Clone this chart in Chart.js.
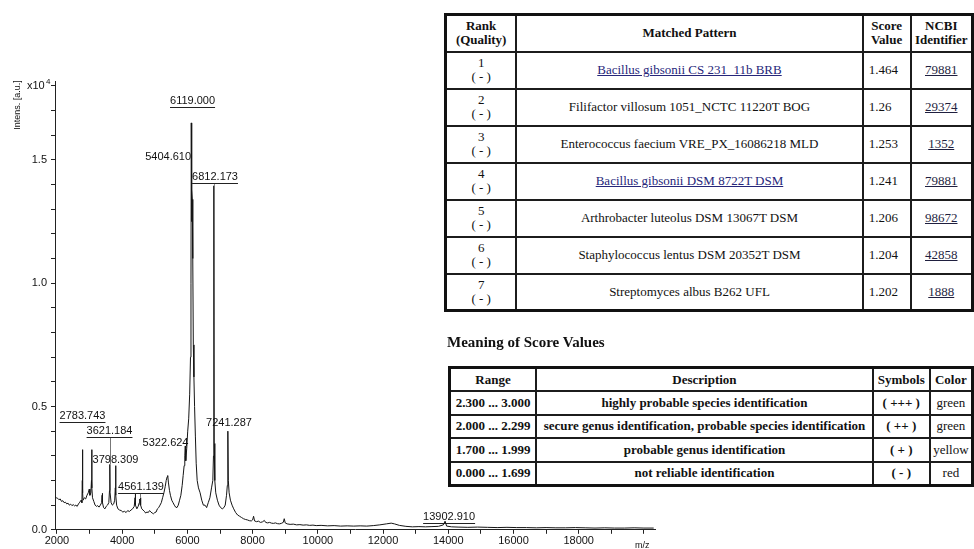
<!DOCTYPE html>
<html>
<head>
<meta charset="utf-8">
<script src="https://cdn.jsdelivr.net/npm/chart.js@4.4.0/dist/chart.umd.min.js"></script>
<style>
body { margin:0; width:974px; height:549px; overflow:hidden; position:relative; background:#fff; }
#spec { position:absolute; left:0; top:0; }
table { position:absolute; border-collapse:collapse; table-layout:fixed; font-family:'Liberation Serif','Times New Roman',serif; font-size:13px; color:#111; background:#fff; border:3px solid #111; }
td, th { border:2px solid #1c1c1c; text-align:center; padding:0; overflow:hidden; white-space:nowrap; line-height:14px; }
#t1 { left:444px; top:13px; }
#t1 tr { height:37px; }
#t1 td.score { text-align:left; padding-left:5px; }
#t1 a { color:#26267a; text-decoration:underline; }
#t1 span.id { color:#1f1f3f; text-decoration:underline; }
#cap { position:absolute; left:447px; top:334px; font-family:'Liberation Serif','Times New Roman',serif; font-weight:bold; font-size:15px; color:#111; }
#t2 { left:448px; top:366px; font-weight:bold; }
#t2 tr { height:23.5px; }
#t2 td { line-height:18px; }
#t2 td.col { font-weight:normal; }
</style>
</head>
<body>
<canvas id="spec" width="974" height="549"></canvas>
<table id="t1"></table>
<div id="cap">Meaning of Score Values</div>
<table id="t2"></table>
<script>
// spectrum, intensity in 10^4 a.u.
let mz = [1940, 1980, 2020, 2060, 2100, 2140, 2180, 2220, 2260, 2300, 2340, 2380, 2420, 2460, 2500, 2540, 2580, 2620, 2660, 2700, 2740, 2765, 2778, 2784, 2790, 2800, 2840, 2880, 2920, 2960, 2990, 3010, 3040, 3058, 3066, 3074, 3090, 3130, 3170, 3210, 3250, 3290, 3330, 3370, 3385, 3391, 3400, 3430, 3470, 3510, 3550, 3590, 3612, 3621, 3630, 3660, 3700, 3740, 3770, 3790, 3798, 3808, 3830, 3870, 3920, 3970, 4020, 4070, 4120, 4170, 4220, 4270, 4320, 4370, 4395, 4403, 4412, 4450, 4490, 4525, 4540, 4552, 4561, 4572, 4600, 4640, 4680, 4720, 4760, 4800, 4840, 4880, 4920, 4960, 5000, 5040, 5080, 5120, 5160, 5200, 5240, 5280, 5320, 5350, 5380, 5397, 5420, 5450, 5480, 5520, 5560, 5600, 5640, 5680, 5720, 5760, 5800, 5840, 5870, 5900, 5920, 5935, 5950, 5980, 6010, 6040, 6070, 6095, 6110, 6119, 6126, 6138, 6150, 6165, 6182, 6200, 6220, 6245, 6270, 6300, 6340, 6390, 6440, 6490, 6540, 6590, 6640, 6690, 6740, 6780, 6800, 6812, 6822, 6840, 6870, 6920, 6970, 7020, 7070, 7120, 7160, 7200, 7225, 7241, 7255, 7280, 7320, 7370, 7420, 7480, 7540, 7600, 7660, 7720, 7780, 7840, 7900, 7960, 8000, 8030, 8060, 8120, 8180, 8240, 8300, 8360, 8400, 8460, 8520, 8580, 8640, 8700, 8760, 8820, 8880, 8940, 8970, 9000, 9060, 9150, 9250, 9350, 9450, 9550, 9650, 9750, 9850, 9950, 10100, 10300, 10500, 10700, 10900, 11100, 11300, 11500, 11700, 11900, 12100, 12250, 12350, 12500, 12700, 12900, 13100, 13300, 13500, 13700, 13850, 13902, 13950, 14100, 14300, 14600, 14900, 15200, 15500, 15800, 16100, 16400, 16700, 17000, 17300, 17600, 17900, 18200, 18500, 18800, 19100, 19400, 19700, 20000, 20300];
let intensity = [0.135, 0.13, 0.128, 0.122, 0.125, 0.115, 0.118, 0.11, 0.112, 0.105, 0.108, 0.1, 0.104, 0.098, 0.102, 0.097, 0.1, 0.095, 0.105, 0.112, 0.12, 0.11, 0.2, 0.325, 0.15, 0.12, 0.13, 0.125, 0.14, 0.15, 0.165, 0.14, 0.15, 0.2, 0.325, 0.17, 0.13, 0.115, 0.1, 0.095, 0.098, 0.092, 0.1, 0.11, 0.14, 0.148, 0.11, 0.09, 0.085, 0.095, 0.1, 0.11, 0.16, 0.265, 0.15, 0.11, 0.1, 0.105, 0.12, 0.17, 0.26, 0.14, 0.1, 0.085, 0.08, 0.078, 0.072, 0.075, 0.07, 0.078, 0.074, 0.08, 0.085, 0.095, 0.13, 0.145, 0.1, 0.085, 0.095, 0.11, 0.125, 0.1, 0.13, 0.1, 0.085, 0.08, 0.075, 0.068, 0.072, 0.07, 0.078, 0.072, 0.068, 0.065, 0.07, 0.072, 0.085, 0.09, 0.1, 0.11, 0.13, 0.15, 0.175, 0.2, 0.215, 0.22, 0.19, 0.16, 0.14, 0.12, 0.11, 0.1, 0.092, 0.09, 0.1, 0.12, 0.14, 0.18, 0.22, 0.26, 0.3, 0.34, 0.28, 0.33, 0.4, 0.45, 0.55, 0.7, 1.0, 1.65, 1.25, 1.38, 1.34, 1.1, 0.75, 0.62, 0.5, 0.38, 0.27, 0.2, 0.17, 0.15, 0.12, 0.1, 0.1, 0.09, 0.11, 0.13, 0.17, 0.2, 0.3, 1.395, 0.35, 0.2, 0.15, 0.12, 0.1, 0.09, 0.085, 0.09, 0.1, 0.14, 0.18, 0.4, 0.2, 0.15, 0.12, 0.1, 0.085, 0.07, 0.06, 0.055, 0.05, 0.045, 0.042, 0.04, 0.037, 0.036, 0.04, 0.055, 0.036, 0.033, 0.035, 0.03, 0.032, 0.038, 0.03, 0.028, 0.03, 0.027, 0.026, 0.028, 0.025, 0.024, 0.026, 0.03, 0.045, 0.028, 0.024, 0.022, 0.023, 0.02, 0.021, 0.019, 0.02, 0.018, 0.019, 0.017, 0.018, 0.016, 0.017, 0.015, 0.016, 0.015, 0.016, 0.015, 0.017, 0.02, 0.024, 0.027, 0.024, 0.018, 0.014, 0.012, 0.013, 0.012, 0.013, 0.014, 0.02, 0.035, 0.015, 0.012, 0.011, 0.01, 0.011, 0.01, 0.009, 0.01, 0.009, 0.009, 0.008, 0.009, 0.008, 0.008, 0.009, 0.008, 0.007, 0.008, 0.007, 0.007, 0.008, 0.007, 0.007];

// x ticks: marks every 1000, labels on the even ones
let xTickValues = [2000, 3000, 4000, 5000, 6000, 7000, 8000, 9000, 10000, 11000, 12000, 13000, 14000, 15000, 16000, 17000, 18000, 19000, 20000];
let xTickLabels = ['2000', '', '4000', '', '6000', '', '8000', '', '10000', '', '12000', '', '14000', '', '16000', '', '18000', '', ''];

let peakMz = [6119.000, 5404.610, 6812.173, 2783.743, 3621.184, 5322.624, 7241.287, 3798.309, 4561.139, 13902.910];

let rankNum = [1, 2, 3, 4, 5, 6, 7];
let matchedPattern = ['Bacillus gibsonii CS 231_11b BRB', 'Filifactor villosum 1051_NCTC 11220T BOG', 'Enterococcus faecium VRE_PX_16086218 MLD', 'Bacillus gibsonii DSM 8722T DSM', 'Arthrobacter luteolus DSM 13067T DSM', 'Staphylococcus lentus DSM 20352T DSM', 'Streptomyces albus B262 UFL'];
let scoreValue = [1.464, 1.26, 1.253, 1.241, 1.206, 1.204, 1.202];
let ncbiId = ['79881', '29374', '1352', '79881', '98672', '42858', '1888'];
let isLinked = [true, false, false, true, false, false, false];

let scoreRange = ['2.300 ... 3.000', '2.000 ... 2.299', '1.700 ... 1.999', '0.000 ... 1.699'];
let rangeDesc = ['highly probable species identification', 'secure genus identification, probable species identification', 'probable genus identification', 'not reliable identification'];
let rangeSymbol = ['( +++ )', '( ++ )', '( + )', '( - )'];
let rangeColor = ['green', 'green', 'yellow', 'red'];

// where each peak label sits (m/z of text anchor, height in 10^4)
let labelLayout = [
  {x: 6158, y: 1.74, align: 'center', under: true},
  {x: 6112, y: 1.51, align: 'right', under: false},
  {x: 6848, y: 1.43, align: 'center', under: true, leader: true},
  {x: 2784, y: 0.462, align: 'center', under: true},
  {x: 3612, y: 0.401, align: 'center', under: true, leader: true},
  {x: 5330, y: 0.353, align: 'center', under: false},
  {x: 7277, y: 0.434, align: 'center', under: false},
  {x: 3796, y: 0.284, align: 'center', under: false},
  {x: 4578, y: 0.174, align: 'center', under: true, leader: true},
  {x: 14026, y: 0.053, align: 'center', under: true}
];

function buildTables() {
  let t1 = document.getElementById('t1');
  let html = '<colgroup><col style="width:71px"><col style="width:347px"><col style="width:48px"><col style="width:62px"></colgroup>';
  html += '<tr><th>Rank<br>(Quality)</th><th>Matched Pattern</th><th>Score<br>Value</th><th>NCBI<br>Identifier</th></tr>';
  rankNum.forEach((r, i) => {
    let name = isLinked[i] ? `<a>${matchedPattern[i]}</a>` : matchedPattern[i];
    html += `<tr><td>${r}<br>( - )</td><td>${name}</td><td class="score">${scoreValue[i]}</td><td><span class="id">${ncbiId[i]}</span></td></tr>`;
  });
  t1.innerHTML = html;

  let t2 = document.getElementById('t2');
  let html2 = '<colgroup><col style="width:89px"><col style="width:340px"><col style="width:59px"><col style="width:44px"></colgroup>';
  html2 += '<tr><th>Range</th><th>Description</th><th>Symbols</th><th>Color</th></tr>';
  scoreRange.forEach((r, i) => {
    html2 += `<tr><td>${r}</td><td>${rangeDesc[i]}</td><td>${rangeSymbol[i]}</td><td class="col">${rangeColor[i]}</td></tr>`;
  });
  t2.innerHTML = html2;
}
buildTables();

let font = "'Liberation Sans', Arial, sans-serif";

let annotate = {
  id: 'annotate',
  afterDraw(chart) {
    let ctx = chart.ctx;
    let xs = chart.scales.x;
    let ys = chart.scales.y;
    let area = chart.chartArea;
    ctx.save();
    ctx.fillStyle = '#111';
    ctx.strokeStyle = '#222';
    ctx.lineWidth = 1;

    // x10^4 and axis titles
    ctx.font = '11px ' + font;
    ctx.textBaseline = 'alphabetic';
    ctx.textAlign = 'left';
    ctx.fillText('x10', area.left - 28, area.top + 8);
    ctx.font = '8px ' + font;
    ctx.fillText('4', area.left - 9, area.top + 3);
    ctx.font = '9px ' + font;
    ctx.fillText('m/z', 635, 548);
    ctx.save();
    ctx.translate(18, area.top + 24);
    ctx.rotate(-Math.PI / 2);
    ctx.textAlign = 'center';
    ctx.textBaseline = 'middle';
    ctx.fillText('Intens. [a.u.]', 0, 0);
    ctx.restore();

    // peak labels
    ctx.font = '11px ' + font;
    ctx.textBaseline = 'middle';
    peakMz.forEach((p, i) => {
      let lay = labelLayout[i];
      let text = p.toFixed(3);
      let px = xs.getPixelForValue(lay.x);
      let py = ys.getPixelForValue(lay.y);
      let w = ctx.measureText(text).width;
      let left = lay.align === 'right' ? px - w : px - w / 2;
      ctx.textAlign = 'left';
      ctx.fillText(text, left, py);
      if (lay.under) {
        ctx.beginPath();
        ctx.moveTo(left, Math.round(py + 6) + 0.5);
        ctx.lineTo(left + w, Math.round(py + 6) + 0.5);
        ctx.stroke();
      }
      if (lay.leader) {
        // nearest spectrum point to this peak
        let k = 0;
        mz.forEach((m, j) => { if (Math.abs(m - p) < Math.abs(mz[k] - p)) k = j; });
        let lx = Math.round(xs.getPixelForValue(mz[k])) + 0.5;
        ctx.strokeStyle = '#777';
        ctx.beginPath();
        ctx.moveTo(lx, py + 7);
        ctx.lineTo(lx, ys.getPixelForValue(intensity[k]));
        ctx.stroke();
        ctx.strokeStyle = '#222';
      }
    });
    ctx.restore();
  }
};

new Chart(document.getElementById('spec'), {
  type: 'line',
  data: {
    datasets: [{
      data: mz.map((m, i) => ({x: m, y: intensity[i]})),
      borderColor: '#151515',
      borderWidth: 1,
      pointRadius: 0,
      tension: 0,
      fill: false
    }]
  },
  options: {
    responsive: false,
    animation: false,
    layout: { padding: { left: 0, top: 81, right: 319, bottom: 0 } },
    plugins: { legend: { display: false }, tooltip: { enabled: false } },
    scales: {
      x: {
        type: 'linear',
        min: 1940,
        max: 20340,
        afterBuildTicks: s => { s.ticks = xTickValues.map(v => ({value: v})); },
        border: { color: '#222', width: 1 },
        grid: { drawOnChartArea: false, tickLength: 4, color: '#222' },
        ticks: {
          autoSkip: false,
          maxRotation: 0,
          minRotation: 0,
          padding: 1,
          color: '#111',
          font: { family: font, size: 11 },
          callback: (v, i) => xTickLabels[i]
        }
      },
      y: {
        min: 0,
        max: 1.82,
        afterFit: s => { s.width = 55; },
        border: { color: '#222', width: 1 },
        grid: { drawOnChartArea: false, tickLength: 4, color: '#222' },
        ticks: {
          stepSize: 0.1,
          includeBounds: false,
          autoSkip: false,
          padding: 4,
          color: '#111',
          font: { family: font, size: 11 },
          callback: v => Math.abs(v * 2 - Math.round(v * 2)) < 1e-6 ? v.toFixed(1) : ''
        }
      }
    }
  },
  plugins: [annotate]
});
</script>
</body>
</html>
